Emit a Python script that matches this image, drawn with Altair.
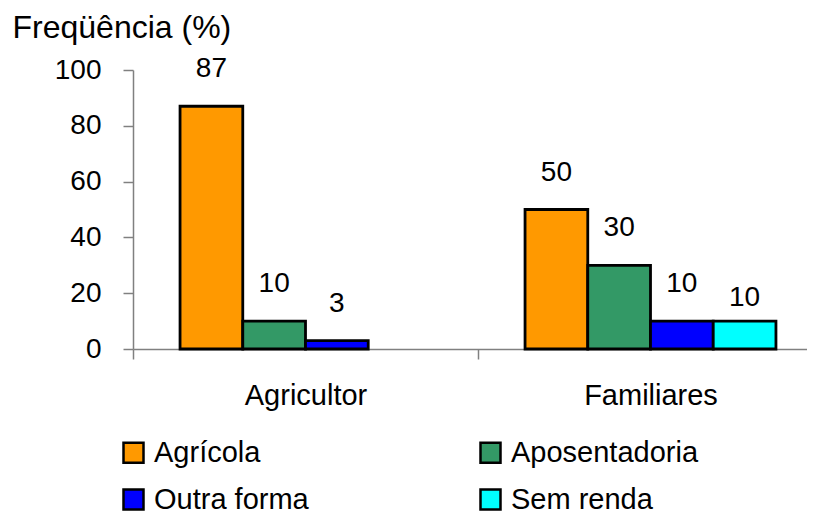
import altair as alt
import pandas as pd

# ---- data ----
categories = ["Agricultor", "Familiares"]
series_order = ["Agrícola", "Aposentadoria", "Outra forma", "Sem renda"]
colors = ["#FF9900", "#339966", "#0000FF", "#00FFFF"]

groups = ["Agricultor", "Agricultor", "Agricultor",
          "Familiares", "Familiares", "Familiares", "Familiares"]
series = ["Agrícola", "Aposentadoria", "Outra forma",
          "Agrícola", "Aposentadoria", "Outra forma", "Sem renda"]
values = [87, 10, 3, 50, 30, 10, 10]
y_ticks = [0, 20, 40, 60, 80, 100]

df = pd.DataFrame({"grupo": groups, "serie": series, "valor": values})

FONT = "Liberation Sans"
FS = 28
GRAY = "#808080"

x_enc = alt.X(
    "grupo:N",
    sort=categories,
    scale=alt.Scale(domain=categories, paddingInner=0, paddingOuter=0,
                    range=[0, 690]),
    axis=alt.Axis(
        title=None, labelAngle=0, tickBand="extent", domainColor=GRAY,
        domainWidth=1.5, tickColor=GRAY, tickWidth=1.5, tickSize=10,
        labelFont=FONT, labelFontSize=29, labelColor="black", labelPadding=22,
        grid=False,
    ),
)
xoff_enc = alt.XOffset(
    "serie:N",
    sort=series_order,
    scale=alt.Scale(domain=series_order, paddingInner=0, paddingOuter=0.75),
)
y_enc = alt.Y(
    "valor:Q",
    scale=alt.Scale(domain=[0, 100], nice=False),
    axis=alt.Axis(
        values=y_ticks, title="Freqüência (%)", titleAngle=0, titleX=-121,
        titleY=-33, titleAlign="left", titleBaseline="alphabetic",
        titleFont=FONT, titleFontSize=32, titleFontWeight="normal",
        titleColor="black", domainColor=GRAY, domainWidth=1.5,
        tickColor=GRAY, tickWidth=1.5, tickSize=10, labelFont=FONT,
        labelFontSize=FS, labelColor="black", labelPadding=22, grid=False,
    ),
)

bars = alt.Chart(df).mark_bar(stroke="black", strokeWidth=2.8, opacity=1).encode(
    x=x_enc,
    xOffset=xoff_enc,
    y=y_enc,
    color=alt.Color(
        "serie:N",
        sort=series_order,
        scale=alt.Scale(domain=series_order, range=colors),
        legend=alt.Legend(
            title=None, orient="none", legendX=-14, legendY=368,
            direction="horizontal", columns=2, symbolType="square",
            symbolSize=400, symbolStrokeColor="black", symbolStrokeWidth=2.5,
            symbolOpacity=1, labelFont=FONT, labelFontSize=29,
            labelColor="black", labelOffset=6, columnPadding=166,
            rowPadding=16, labelLimit=400,
        ),
    ),
)

label_base = alt.Chart(df).encode(
    x=x_enc, xOffset=xoff_enc, y=y_enc, text=alt.Text("valor:Q")
)
labels_main = label_base.transform_filter(alt.datum.serie != "Sem renda").mark_text(
    font=FONT, fontSize=FS, color="black", dy=-37, baseline="middle"
)
labels_last = label_base.transform_filter(alt.datum.serie == "Sem renda").mark_text(
    font=FONT, fontSize=FS, color="black", dy=-23, baseline="middle"
)

chart = (
    alt.layer(bars, labels_main, labels_last)
    .properties(
        width=674, height=279,
        background="white",
        autosize=alt.AutoSizeParams(type="none"),
        padding={"left": 125, "top": 62, "right": 0, "bottom": 166},
    )
    .configure_view(stroke="transparent", strokeWidth=0)
)

chart.save("out.html", embed_options={"renderer": "svg", "actions": False})
